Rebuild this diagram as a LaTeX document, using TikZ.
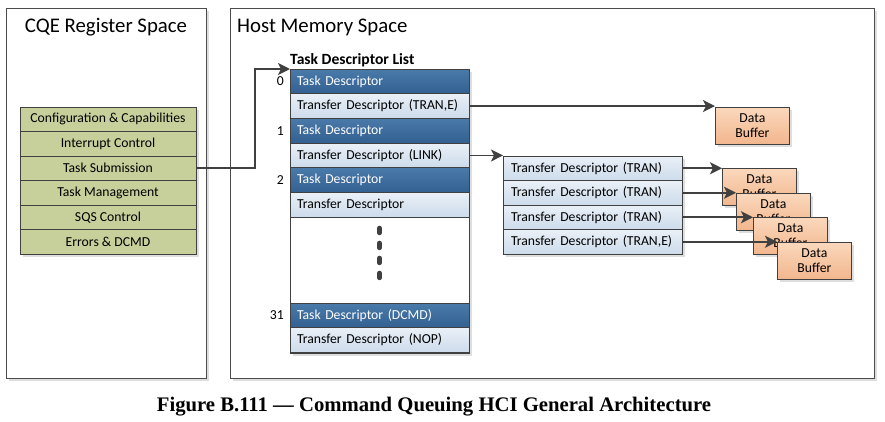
\documentclass[tikz,border=0pt]{standalone}
\usepackage{fontspec}
\setmainfont{Carlito}
\newfontfamily\capfont{Liberation Serif}
\usepackage{tikz}
\usetikzlibrary{positioning, arrows.meta, shadows}

\definecolor{regolive}{RGB}{199,208,155}
\definecolor{tdtop}{RGB}{74,122,170}
\definecolor{tdbot}{RGB}{50,96,145}
\definecolor{xdtop}{RGB}{234,240,247}
\definecolor{xdbot}{RGB}{204,219,235}
\definecolor{buftop}{RGB}{250,216,188}
\definecolor{bufbot}{RGB}{242,182,142}
\definecolor{edge}{RGB}{64,64,64}

\begin{document}
\begin{tikzpicture}[x=1pt, y=-1pt,
  shade/.style={drop shadow={shadow xshift=3pt, shadow yshift=-3pt, fill=black!13, opacity=1}},
  panel/.style={draw=black!70, line width=0.8pt, fill=white, shade},
  paneltitle/.style={inner sep=0pt, font=\fontsize{20.8}{24}\selectfont},
  frame/.style={draw=edge, line width=0.9pt, fill=white, inner sep=0pt, outer sep=0pt, shade},
  regrow/.style={draw=edge, line width=0.8pt, fill=regolive, minimum width=176pt, minimum height=24.5pt,
    inner sep=0pt, outer sep=0pt, font=\fontsize{13.7}{16}\selectfont},
  taskd/.style={draw=edge, line width=0.8pt, top color=tdtop, bottom color=tdbot, text=white,
    text width=165pt, align=left, inner xsep=7pt, inner ysep=0pt, minimum height=24.7pt, outer sep=0pt,
    font=\fontsize{13.7}{16}\selectfont},
  xferd/.style={taskd, top color=xdtop, bottom color=xdbot, text=black},
  linkd/.style={xferd, text width=163pt, inner xsep=8pt, minimum height=24.5pt},
  buf/.style={draw=edge, line width=0.8pt, top color=buftop, bottom color=bufbot, minimum width=74pt,
    minimum height=36.5pt, inner sep=0pt, align=center, font=\fontsize{13.7}{15.5}\selectfont, shade},
  idx/.style={inner sep=0pt, font=\fontsize{13.7}{16}\selectfont},
  listtitle/.style={inner sep=0pt, font=\bfseries\fontsize{15.6}{18}\selectfont},
  arrow/.style={draw=edge, line width=1.8pt, -{Stealth[length=12pt, width=12pt, inset=3pt]}},
  dots/.style={draw=edge, line width=5pt, line cap=round, dash pattern=on 4.5pt off 10.5pt}]

  \useasboundingbox (0,0) rectangle (885,421);

  % the two address spaces
  \draw[panel] (6,8) rectangle (206,378);
  \draw[panel] (230,8) rectangle (874,378);
  \node[paneltitle] (regtitle) at (106,27) {CQE Register Space};
  \node[paneltitle, anchor=west] (hosttitle) at (237,27) {Host Memory Space};

  % CQE registers
  \node[frame, minimum width=176pt, minimum height=147pt, anchor=north west] (regs) at (20,107) {};
  \node[regrow, anchor=north west] (cfg) at (regs.north west) {Configuration \& Capabilities};
  \node[regrow, below=0pt of cfg] (irq) {Interrupt Control};
  \node[regrow, below=0pt of irq] (sub) {Task Submission};
  \node[regrow, below=0pt of sub] (mgmt) {Task Management};
  \node[regrow, below=0pt of mgmt] (sqs) {SQS Control};
  \node[regrow, below=0pt of sqs] (err) {Errors \& DCMD};

  % task descriptor list
  \node[frame, minimum width=179pt, minimum height=284pt, anchor=north west] (tdl) at (290,69) {};
  \node[listtitle, anchor=south west] (tdltitle) at ([yshift=2pt]tdl.north west) {Task Descriptor List};
  \node[taskd, anchor=north west] (td0) at (tdl.north west) {Task Descriptor};
  \node[xferd, below=0pt of td0] (xd0) {Transfer Descriptor (TRAN,E)};
  \node[taskd, below=0pt of xd0] (td1) {Task Descriptor};
  \node[xferd, below=0pt of td1] (xd1) {Transfer Descriptor (LINK)};
  \node[taskd, below=0pt of xd1] (td2) {Task Descriptor};
  \node[xferd, below=0pt of td2] (xd2) {Transfer Descriptor};
  \node[taskd, anchor=north west] (td31) at (290,303) {Task Descriptor (DCMD)};
  \node[xferd, below=0pt of td31] (xd31) {Transfer Descriptor (NOP)};
  \draw[dots] (xd2.south) ++(0,11) -- ++(0,57);

  \node[idx, left=6pt of td0] (n0) {0};
  \node[idx, left=6pt of td1] (n1) {1};
  \node[idx, left=6pt of td2] (n2) {2};
  \node[idx, left=6pt of td31] (n31) {31};

  % linked transfer descriptors
  \node[frame, minimum width=179pt, minimum height=98pt, anchor=north west] (xfl) at (503,156) {};
  \node[linkd, anchor=north west] (tl1) at (xfl.north west) {Transfer Descriptor (TRAN)};
  \node[linkd, below=0pt of tl1] (tl2) {Transfer Descriptor (TRAN)};
  \node[linkd, below=0pt of tl2] (tl3) {Transfer Descriptor (TRAN)};
  \node[linkd, below=0pt of tl3] (tl4) {Transfer Descriptor (TRAN,E)};

  % data buffers
  \node[buf, anchor=north west] (buf0) at (715,107) {Data\\Buffer};
  \node[buf, anchor=north west] (buf1) at (722,168) {Data\\Buffer};
  \node[buf, anchor=north west] (buf2) at (736,193) {Data\\Buffer};
  \node[buf, anchor=north west] (buf3) at (753,217) {Data\\Buffer};
  \node[buf, anchor=north west] (buf4) at (777,242) {Data\\Buffer};

  \coordinate (bend) at (255,69);
  \draw[arrow] (sub.east) -| (bend) -- (td0.north west);
  \draw[arrow] (xd0.east) -- (xd0.east -| buf0.west);
  \draw[arrow] (xd1.east) -- (xd1.east -| xfl.west);
  \draw[arrow] (tl1.east) -- (tl1.east -| buf1.west);
  \draw[arrow] (tl2.east) -- (tl2.east -| buf2.west);
  \draw[arrow] (tl3.east) -- (tl3.east -| buf3.west);
  \draw[arrow] (tl4.east) -- (tl4.east -| buf4.west);

  \node[font=\capfont\bfseries\fontsize{20.7}{24}\selectfont] (caption) at (434,407)
    {Figure B.111 — Command Queuing HCI General Architecture};
\end{tikzpicture}
\end{document}
